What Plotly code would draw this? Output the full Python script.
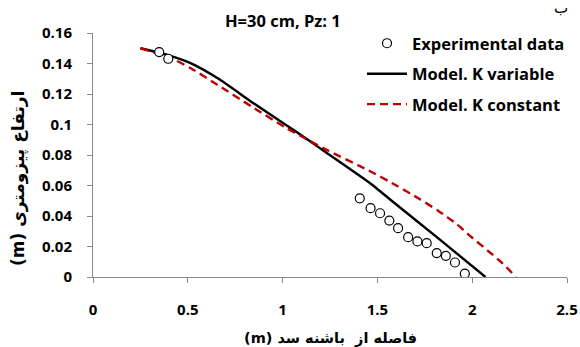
import plotly.graph_objects as go

# Measured phreatic surface (experimental points)
exp_x = [0.349, 0.397, 1.407, 1.464, 1.514, 1.563, 1.609, 1.662, 1.711, 1.760, 1.813, 1.861, 1.909, 1.961]
exp_y = [0.1475, 0.1431, 0.0516, 0.0451, 0.0418, 0.0370, 0.0320, 0.0261, 0.0233, 0.0222, 0.0157, 0.0139, 0.0095, 0.0022]

# Model with variable hydraulic conductivity
kvar_x = [0.25, 0.40, 0.52, 0.66, 0.84, 1.01, 1.12, 1.235, 1.465, 1.59, 1.82, 2.07]
kvar_y = [0.150, 0.1453, 0.1399, 0.1301, 0.1145, 0.1004, 0.0911, 0.0812, 0.0612, 0.0485, 0.0255, 0.0]

# Model with constant hydraulic conductivity
kcon_x = [0.25, 0.40, 0.52, 0.66, 0.84, 1.01, 1.12, 1.235, 1.45, 1.60, 1.72, 1.82, 1.92, 1.99, 2.08, 2.16, 2.23]
kcon_y = [0.150, 0.1442, 0.1366, 0.1257, 0.1115, 0.0984, 0.0908, 0.0832, 0.0701, 0.0600, 0.0513, 0.0435, 0.0345, 0.0268, 0.0175, 0.0090, 0.0]

x_ticks = [0, 0.5, 1, 1.5, 2, 2.5]
x_ticktext = ["0", "0.5", "1", "1.5", "2", "2.5"]
y_ticks = [0, 0.02, 0.04, 0.06, 0.08, 0.1, 0.12, 0.14, 0.16]
y_ticktext = ["0", "0.02", "0.04", "0.06", "0.08", "0.1", "0.12", "0.14", "0.16"]

LAT = "Open Sans"
ARAB = "DejaVu Sans"

W, H = 580, 347
ML, MR, MT, MB = 93, 13, 33, 70
PW, PH = W - ML - MR, H - MT - MB

fig = go.Figure()
fig.add_trace(go.Scatter(
    x=kvar_x, y=kvar_y, mode="lines", name="Model. K variable",
    line=dict(color="black", width=2.4, shape="spline", smoothing=0.6),
    legendgroup="b", legendrank=2,
))
fig.add_trace(go.Scatter(
    x=kcon_x, y=kcon_y, mode="lines", name="Model. K constant",
    line=dict(color="#c00000", width=2.4, dash="8px,5px", shape="spline", smoothing=0.6),
    legendgroup="c", legendrank=3,
))
fig.add_trace(go.Scatter(
    x=exp_x, y=exp_y, mode="markers", name="Experimental data",
    marker=dict(symbol="circle", size=9, color="white", line=dict(color="black", width=1.2)),
    legendgroup="a", legendrank=1,
))

axis_common = dict(
    showline=True, linecolor="#888888", linewidth=1,
    ticks="outside", ticklen=5, tickcolor="#888888",
    showgrid=False, zeroline=False, automargin=False,
    tickfont=dict(family=LAT, size=15, color="black", weight="bold"),
)

fig.update_xaxes(range=[0, 2.5], tickvals=x_ticks, ticktext=x_ticktext,
                 ticklabelstandoff=14, **axis_common)
fig.update_yaxes(range=[0, 0.16], tickvals=y_ticks, ticktext=y_ticktext,
                 ticklabelstandoff=12, **axis_common)


def px_x(px):
    return (px - ML) / PW


def px_y(py):
    return (H - MB - py) / PH


fig.update_layout(
    width=W, height=H,
    margin=dict(l=ML, r=MR, t=MT, b=MB, autoexpand=False),
    paper_bgcolor="white", plot_bgcolor="white",
    showlegend=True,
    legend=dict(
        x=px_x(362), xanchor="left", y=px_y(26), yanchor="top",
        font=dict(family=LAT, size=16.5, color="black", weight="bold"),
        bgcolor="rgba(0,0,0,0)", tracegroupgap=6, itemwidth=40,
    ),
    annotations=[
        dict(text="H=30 cm, Pz: 1", x=px_x(283), y=px_y(20),
             font=dict(family=LAT, size=16.5, color="black", weight="bold")),
        dict(text="ب", x=px_x(561), y=px_y(8),
             font=dict(family=ARAB, size=15, color="black")),
        dict(text="(m) فاصله از  باشنه سد", x=px_x(330), y=px_y(338),
             font=dict(family=ARAB, size=14.5, color="black", weight="bold")),
        dict(text="(m) ارتفاع پیزومتری", x=px_x(18), y=px_y(179), textangle=-90,
             font=dict(family=ARAB, size=17, color="black", weight="bold")),
    ],
)
fig.update_annotations(xref="paper", yref="paper", showarrow=False,
                       xanchor="center", yanchor="middle")

fig.write_html("out.html")
